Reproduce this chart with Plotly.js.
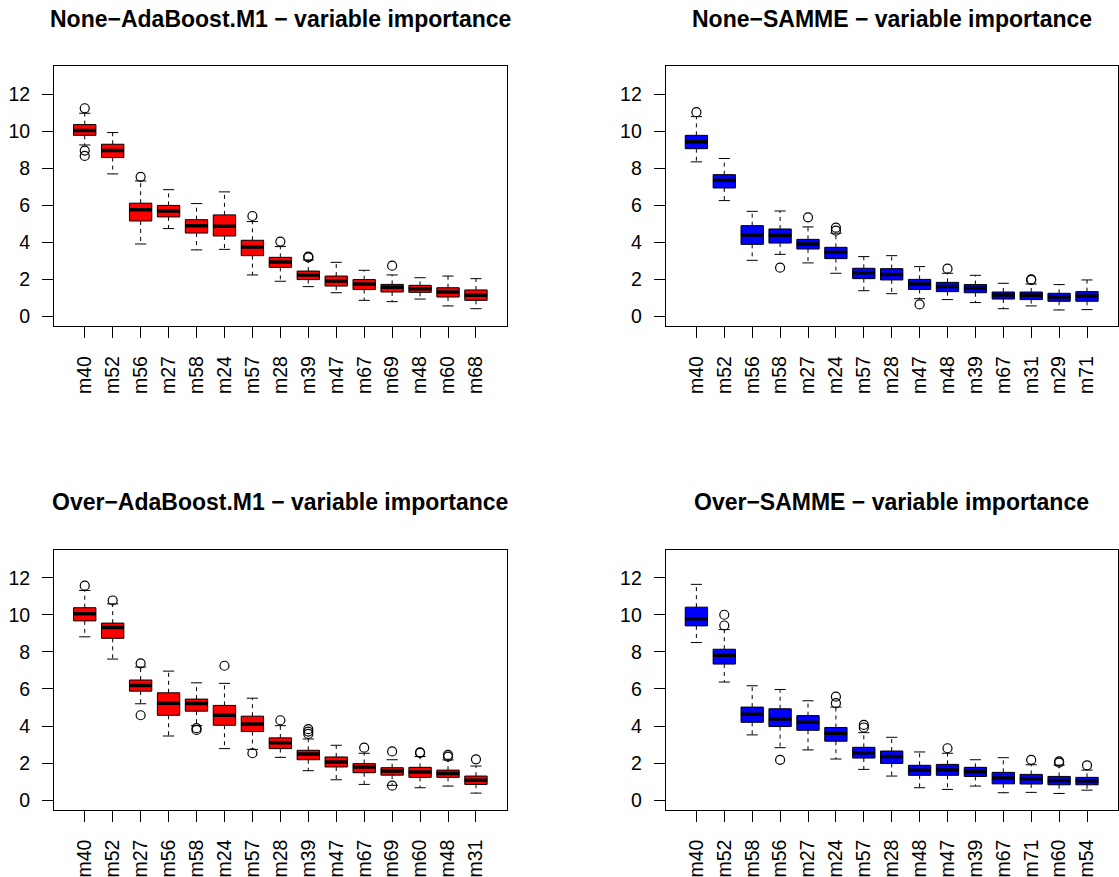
<!DOCTYPE html>
<html>
<head>
<meta charset="utf-8">
<script src="https://cdn.plot.ly/plotly-3.0.1.min.js"></script>
<style>html,body{margin:0;padding:0;background:#fff;}#chart{width:1119px;height:877px;}</style>
</head>
<body>
<div id="chart"></div>
<script>
// ---- Data ----
const titles = [
  "None\u2212AdaBoost.M1 \u2212 variable importance",
  "None\u2212SAMME \u2212 variable importance",
  "Over\u2212AdaBoost.M1 \u2212 variable importance",
  "Over\u2212SAMME \u2212 variable importance"
];

const labels1 = ["m40","m52","m56","m27","m58","m24","m57","m28","m39","m47","m67","m69","m48","m60","m68"];
const hi1  = [10.97, 9.93, 7.32, 6.85, 6.10, 6.73, 5.13, 3.78, 3.06, 2.93, 2.50, 2.25, 2.10, 2.19, 2.05];
const q3_1 = [10.36, 9.30, 6.12, 6.00, 5.23, 5.49, 4.12, 3.20, 2.46, 2.19, 2.00, 1.74, 1.69, 1.56, 1.44];
const med1 = [10.04, 8.96, 5.76, 5.70, 4.91, 4.87, 3.76, 2.95, 2.25, 1.92, 1.76, 1.58, 1.51, 1.33, 1.15];
const q1_1 = [9.78, 8.58, 5.16, 5.38, 4.51, 4.35, 3.29, 2.66, 2.00, 1.65, 1.46, 1.33, 1.31, 1.06, 0.88];
const lo1  = [9.26, 7.70, 3.92, 4.75, 3.60, 3.63, 2.25, 1.91, 1.62, 1.29, 0.88, 0.81, 0.95, 0.58, 0.43];
const outCat1 = ["m40","m40","m40","m56","m57","m28","m39","m39","m69"];
const outVal1 = [11.24, 8.96, 8.67, 7.54, 5.43, 4.05, 3.24, 3.20, 2.75];

const labels2 = ["m40","m52","m56","m58","m27","m24","m57","m28","m47","m48","m39","m67","m31","m29","m71"];
const hi2  = [10.79, 8.53, 5.68, 5.70, 4.84, 4.50, 3.24, 3.29, 2.70, 2.34, 2.23, 1.80, 1.76, 1.73, 1.98];
const q3_2 = [9.78, 7.66, 4.91, 4.73, 4.17, 3.74, 2.61, 2.59, 2.01, 1.85, 1.73, 1.33, 1.33, 1.26, 1.35];
const med2 = [9.44, 7.36, 4.41, 4.39, 3.92, 3.47, 2.37, 2.28, 1.76, 1.62, 1.53, 1.17, 1.15, 1.06, 1.12];
const q1_2 = [9.06, 6.94, 3.90, 3.97, 3.65, 3.13, 2.05, 1.98, 1.47, 1.35, 1.29, 0.95, 0.92, 0.83, 0.83];
const lo2  = [8.35, 6.26, 3.04, 3.36, 2.90, 2.34, 1.40, 1.24, 0.97, 0.92, 0.76, 0.43, 0.58, 0.36, 0.38];
const outCat2 = ["m40","m58","m27","m24","m24","m47","m48","m31","m31"];
const outVal2 = [11.03, 2.64, 5.36, 4.80, 4.64, 0.66, 2.59, 2.01, 1.98];

const labels3 = ["m40","m52","m27","m56","m58","m24","m57","m28","m39","m47","m67","m69","m60","m48","m31"];
const hi3  = [11.31, 10.59, 7.18, 6.96, 6.33, 6.30, 5.50, 4.02, 3.30, 2.96, 2.53, 2.18, 2.35, 2.17, 1.84];
const q3_3 = [10.38, 9.55, 6.48, 5.79, 5.45, 5.11, 4.53, 3.36, 2.69, 2.33, 1.97, 1.75, 1.77, 1.62, 1.30];
const med3 = [10.05, 9.31, 6.19, 5.23, 5.21, 4.58, 4.11, 3.09, 2.49, 2.06, 1.79, 1.57, 1.52, 1.44, 1.08];
const q1_3 = [9.67, 8.73, 5.88, 4.58, 4.80, 4.04, 3.70, 2.78, 2.18, 1.79, 1.48, 1.35, 1.23, 1.23, 0.85];
const lo3  = [8.81, 7.61, 5.20, 3.46, 4.02, 2.78, 2.74, 2.31, 1.59, 1.10, 0.85, 0.80, 0.67, 0.76, 0.38];
const outCat3 = ["m40","m52","m27","m27","m58","m58","m24","m57","m28","m39","m39","m39","m67","m69","m69","m60","m60","m48","m48","m31"];
const outVal3 = [11.57, 10.77, 7.38, 4.58, 3.88, 3.79, 7.25, 2.53, 4.31, 3.83, 3.70, 3.57, 2.83, 2.63, 0.78, 2.58, 2.55, 2.44, 2.35, 2.20];

const labels4 = ["m40","m52","m58","m56","m27","m24","m57","m28","m48","m47","m39","m67","m71","m60","m54"];
const hi4  = [11.64, 9.20, 6.17, 5.97, 5.36, 5.02, 3.64, 3.39, 2.60, 2.53, 2.18, 2.29, 1.91, 1.89, 1.62];
const q3_4 = [10.41, 8.14, 5.02, 4.93, 4.56, 3.92, 2.85, 2.65, 1.88, 1.93, 1.77, 1.50, 1.39, 1.28, 1.23];
const med4 = [9.78, 7.81, 4.64, 4.38, 4.20, 3.61, 2.56, 2.35, 1.61, 1.62, 1.53, 1.19, 1.15, 1.06, 1.05];
const q1_4 = [9.40, 7.34, 4.20, 3.97, 3.77, 3.18, 2.27, 1.98, 1.34, 1.34, 1.28, 0.88, 0.87, 0.83, 0.83];
const lo4  = [8.50, 6.37, 3.52, 2.83, 2.71, 2.22, 1.66, 1.30, 0.67, 0.58, 0.76, 0.40, 0.42, 0.36, 0.54];
const outCat4 = ["m52","m52","m56","m24","m24","m57","m57","m47","m71","m60","m60","m54"];
const outVal4 = [10.00, 9.42, 2.17, 5.58, 5.23, 4.06, 3.92, 2.80, 2.17, 2.09, 2.02, 1.88];

const yTicks = [0, 2, 4, 6, 8, 10, 12];

// ---- Build figure ----
const panels = [
  {labels: labels1, hi: hi1, q3: q3_1, med: med1, q1: q1_1, lo: lo1, oc: outCat1, ov: outVal1, fill: "#FF0000"},
  {labels: labels2, hi: hi2, q3: q3_2, med: med2, q1: q1_2, lo: lo2, oc: outCat2, ov: outVal2, fill: "#0000FF"},
  {labels: labels3, hi: hi3, q3: q3_3, med: med3, q1: q1_3, lo: lo3, oc: outCat3, ov: outVal3, fill: "#FF0000"},
  {labels: labels4, hi: hi4, q3: q3_4, med: med4, q1: q1_4, lo: lo4, oc: outCat4, ov: outVal4, fill: "#0000FF"}
];

const W = 1119, H = 877;
const xDom = [[54/W, 506.7/W], [665.7/W, 1117.7/W]];
const yDom = [[(H-326.3)/H, (H-66)/H], [(H-809.8)/H, (H-549.5)/H]];
const titleY = [(H-19)/H, (H-502)/H];

const FONT = "Liberation Sans, Arimo, Arial, sans-serif";
const traces = [];
const layout = {
  width: W, height: H,
  margin: {l: 0, r: 0, t: 0, b: 0},
  paper_bgcolor: "#ffffff", plot_bgcolor: "#ffffff",
  showlegend: false,
  font: {family: FONT, color: "#000"},
  annotations: []
};

const boxW = 0.8, capW = 0.4;

panels.forEach((p, k) => {
  const sfx = k === 0 ? "" : String(k + 1);
  const xa = "x" + sfx, ya = "y" + sfx;
  const pos = p.labels.map((_, i) => i + 1);

  const wx = [], wy = [], cx = [], cy = [], mx = [], my = [];
  pos.forEach((x, i) => {
    wx.push(x, x, null, x, x, null);
    wy.push(p.q3[i], p.hi[i], null, p.q1[i], p.lo[i], null);
    cx.push(x - capW/2, x + capW/2, null, x - capW/2, x + capW/2, null);
    cy.push(p.hi[i], p.hi[i], null, p.lo[i], p.lo[i], null);
    mx.push(x - boxW/2, x + boxW/2, null);
    my.push(p.med[i], p.med[i], null);
  });
  traces.push({type: "scatter", mode: "lines", x: wx, y: wy, xaxis: xa, yaxis: ya,
    line: {color: "#000", width: 1, dash: "4px,4px"}, hoverinfo: "skip"});
  traces.push({type: "scatter", mode: "lines", x: cx, y: cy, xaxis: xa, yaxis: ya,
    line: {color: "#000", width: 1}, hoverinfo: "skip"});
  traces.push({type: "box", x: pos, q1: p.q1, median: p.med, q3: p.q3,
    lowerfence: p.q1, upperfence: p.q3, width: boxW, whiskerwidth: 0,
    fillcolor: p.fill, line: {color: "#000", width: 1}, xaxis: xa, yaxis: ya,
    boxpoints: false, hoverinfo: "skip"});
  traces.push({type: "scatter", mode: "lines", x: mx, y: my, xaxis: xa, yaxis: ya,
    line: {color: "#000", width: 3.5}, hoverinfo: "skip"});
  traces.push({type: "scatter", mode: "markers",
    x: p.oc.map(c => p.labels.indexOf(c) + 1), y: p.ov, xaxis: xa, yaxis: ya,
    marker: {symbol: "circle-open", size: 9, color: "#000", line: {width: 1.2}}, hoverinfo: "skip"});

  const col = k % 2, row = Math.floor(k / 2);
  layout["xaxis" + sfx] = {
    domain: xDom[col], anchor: ya, range: [-0.1, 16.1],
    tickmode: "array", tickvals: pos, ticktext: p.labels, tickangle: -90,
    ticks: "outside", ticklen: 11, tickcolor: "#000", tickwidth: 1,
    showline: true, mirror: true, linecolor: "#000", linewidth: 1,
    showgrid: false, zeroline: false, automargin: false,
    tickfont: {family: FONT, size: 19.5, color: "#000"}, ticklabelstandoff: 10
  };
  layout["yaxis" + sfx] = {
    domain: yDom[row], anchor: xa, range: [-0.52, 13.52],
    tickmode: "array", tickvals: yTicks, ticktext: yTicks.map(String),
    ticks: "outside", ticklen: 11, tickcolor: "#000", tickwidth: 1,
    showline: true, mirror: true, linecolor: "#000", linewidth: 1,
    showgrid: false, zeroline: false, automargin: false,
    tickfont: {family: FONT, size: 19.5, color: "#000"}, ticklabelstandoff: 8
  };
  layout.annotations.push({
    text: titles[k], xref: "paper", yref: "paper",
    x: (xDom[col][0] + xDom[col][1]) / 2, y: titleY[row],
    xanchor: "center", yanchor: "middle", showarrow: false,
    font: {family: FONT, size: 23, color: "#000", weight: "bold"}
  });
});

Plotly.newPlot("chart", traces, layout, {displayModeBar: false, staticPlot: true});
</script>
</body>
</html>
